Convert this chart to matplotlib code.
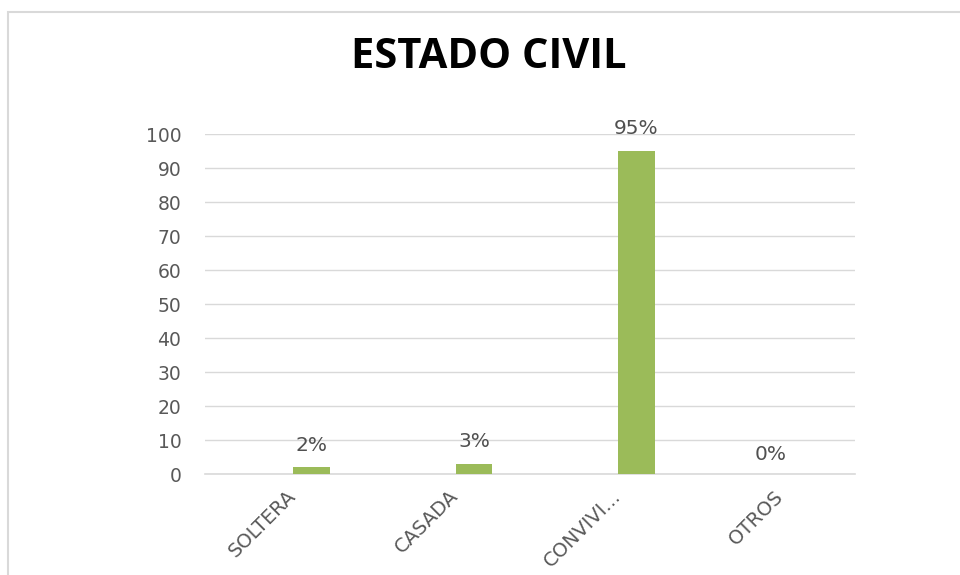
import matplotlib.pyplot as plt
from matplotlib.patches import Rectangle

categories = ["SOLTERA", "CASADA", "CONVIVI...", "OTROS"]
values = [2, 3, 95, 0]
value_labels = ["2%", "3%", "95%", "0%"]
y_ticks = [0, 10, 20, 30, 40, 50, 60, 70, 80, 90, 100]

BAR_COLOR = "#9BBB59"
TEXT_COLOR = "#595959"
GRID_COLOR = "#D9D9D9"

fig = plt.figure(figsize=(9.6, 5.75), dpi=100)

# light frame of the chart area, running off the right/bottom edges
fig.patches.append(
    Rectangle((8 / 960, -0.05), 1.1, 1 - 12 / 575 + 0.05, transform=fig.transFigure,
              fill=False, edgecolor="#D9D9D9", linewidth=1.5)
)

ax = fig.add_axes([205 / 960, 1 - 474 / 575, 650 / 960, 340 / 575])

x = list(range(len(categories)))
offset = 0.155
bar_x = [i + offset for i in x]
ax.bar(bar_x, values, width=0.225, color=BAR_COLOR, zorder=3)

for i, (bx, v, lab) in enumerate(zip(bar_x, values, value_labels)):
    lx = bx if v > 0 else i - 0.02
    ax.annotate(lab, (lx, v), xytext=(0, 9 if v > 0 else 7), textcoords="offset points",
                ha="center", va="bottom", fontsize=14.5, color="#505050")

ax.set_xlim(-0.5, len(categories) - 0.5)
ax.set_ylim(0, 100)
ax.set_yticks(y_ticks)
ax.yaxis.grid(True, color=GRID_COLOR, linewidth=1, zorder=0)
ax.axhline(0, color=GRID_COLOR, linewidth=1.2, clip_on=False, zorder=2)
ax.set_xticks(x)
ax.set_xticklabels(categories, rotation=45, ha="right", rotation_mode="anchor")
for s in ax.spines.values():
    s.set_visible(False)
ax.tick_params(axis="both", length=0, labelsize=13.5, colors=TEXT_COLOR)
ax.tick_params(axis="y", pad=17)
ax.tick_params(axis="x", pad=9, labelsize=14)

fig.text(489 / 960, 1 - 58 / 575, "ESTADO CIVIL", ha="center", va="center",
         fontsize=30, fontweight="bold", family="Open Sans", color="black")

fig.savefig("out.png", dpi=100)
